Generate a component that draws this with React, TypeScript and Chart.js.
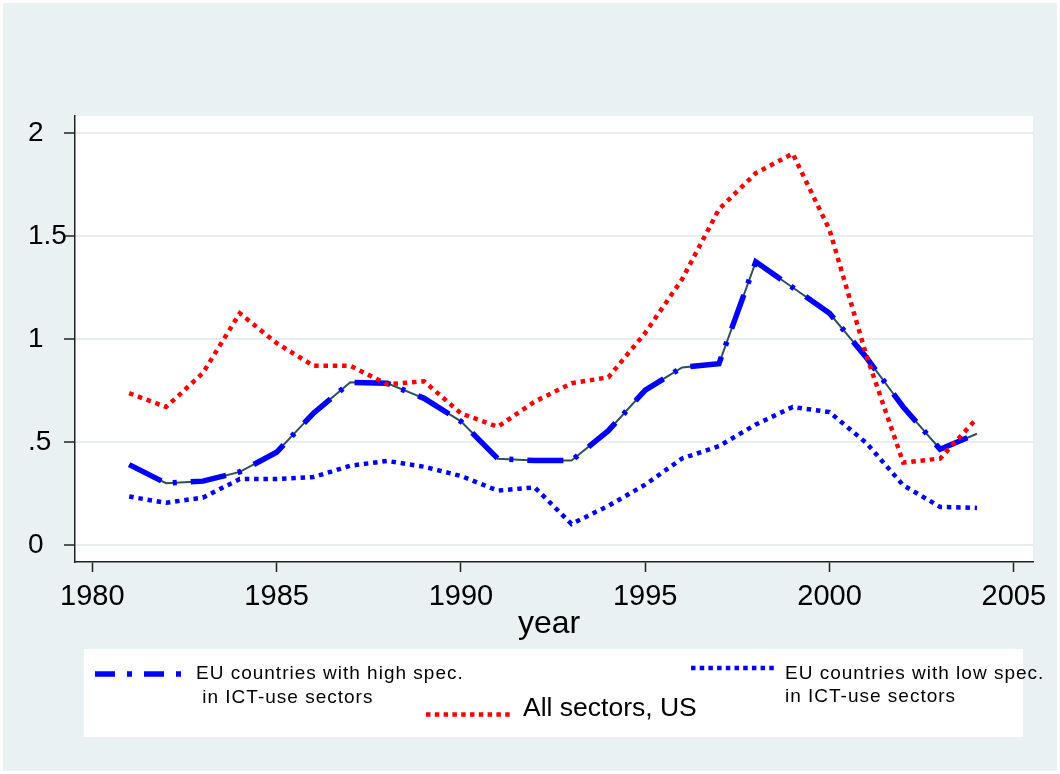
import React, { useEffect, useRef } from "react";
import { Chart, registerables } from "chart.js";

Chart.register(...registerables);

const YEARS = [1981, 1982, 1983, 1984, 1985, 1986, 1987, 1988, 1989, 1990, 1991, 1992, 1993, 1994, 1995, 1996, 1997, 1998, 1999, 2000, 2001, 2002, 2003, 2004];
const HIGH_SPEC = [0.39, 0.30, 0.31, 0.355, 0.45, 0.64, 0.79, 0.785, 0.712, 0.6, 0.419, 0.41, 0.41, 0.555, 0.752, 0.862, 0.88, 1.375, 1.25, 1.125, 0.91, 0.67, 0.465, 0.54];
const LOW_SPEC = [0.235, 0.205, 0.23, 0.32, 0.32, 0.33, 0.385, 0.408, 0.38, 0.335, 0.264, 0.28, 0.102, 0.19, 0.293, 0.42, 0.48, 0.585, 0.67, 0.645, 0.495, 0.29, 0.185, 0.18];
const US_ALL = [0.737, 0.67, 0.835, 1.125, 0.98, 0.87, 0.87, 0.78, 0.795, 0.639, 0.574, 0.696, 0.785, 0.814, 1.03, 1.29, 1.63, 1.805, 1.9, 1.53, 0.92, 0.40, 0.42, 0.615];
const X_TICKS = [1980, 1985, 1990, 1995, 2000, 2005];
const Y_TICKS = [0, 0.5, 1, 1.5, 2];
const Y_TICK_LABELS = ["0", ".5", "1", "1.5", "2"];
const X_TITLE = "year";
const LABEL_HIGH = ["EU countries with high spec.", " in ICT-use sectors"];
const LABEL_LOW = ["EU countries with low spec.", "in ICT-use sectors"];
const LABEL_US = "All sectors, US";

const FONT = "'Liberation Sans', Arial, Helvetica, sans-serif";
const BG = "#e9f1f3";
const BLUE = "#0000ff";
const RED = "#ff0000";
const SLATE = "#2d4f5f";

const backgroundPlugin = {
  id: "stataBackground",
  beforeDraw(chart: any) {
    const { ctx, width, height, chartArea } = chart;
    ctx.save();
    ctx.fillStyle = "#ffffff";
    ctx.fillRect(0, 0, width, height);
    ctx.fillStyle = BG;
    ctx.fillRect(3, 3, width - 6, height - 6);
    ctx.fillStyle = "#ffffff";
    ctx.fillRect(chartArea.left, chartArea.top, chartArea.right - chartArea.left, chartArea.bottom - chartArea.top);
    ctx.restore();
  },
};

function sampleLine(ctx: any, x1: number, x2: number, y: number, color: string, width: number, dash: number[]) {
  ctx.save();
  ctx.strokeStyle = color;
  ctx.lineWidth = width;
  ctx.lineCap = "butt";
  ctx.setLineDash(dash);
  ctx.beginPath();
  ctx.moveTo(x1, y);
  ctx.lineTo(x2, y);
  ctx.stroke();
  ctx.restore();
}

const legendPlugin = {
  id: "stataLegend",
  afterDraw(chart: any) {
    const { ctx, chartArea } = chart;
    ctx.save();
    // x axis title
    ctx.fillStyle = "#000";
    ctx.font = `32px ${FONT}`;
    ctx.textAlign = "center";
    ctx.textBaseline = "alphabetic";
    ctx.fillText(X_TITLE, (chartArea.left + chartArea.right) / 2 - 5, 633);

    // legend box
    ctx.fillStyle = "#ffffff";
    ctx.fillRect(84, 649, 1023 - 84, 737 - 649);

    // item: high spec
    sampleLine(ctx, 95, 182, 674, BLUE, 5.5, [20, 12, 5, 12]);
    ctx.fillStyle = "#000";
    ctx.textAlign = "left";
    ctx.font = `19px ${FONT}`;
    (ctx as any).letterSpacing = "1px";
    ctx.fillText(LABEL_HIGH[0], 196, 679);
    ctx.fillText(LABEL_HIGH[1], 196, 703);

    // item: low spec
    sampleLine(ctx, 691, 776, 668, BLUE, 4.5, [4.5, 4.2]);
    ctx.fillText(LABEL_LOW[0], 785, 679);
    ctx.fillText(LABEL_LOW[1], 785, 702);

    // item: US
    (ctx as any).letterSpacing = "0px";
    sampleLine(ctx, 426, 513, 714.5, RED, 4.5, [4.5, 4.3]);
    ctx.font = `26.5px ${FONT}`;
    ctx.fillText(LABEL_US, 523, 716);
    ctx.restore();
  },
};

export default function App() {
  const canvasRef = useRef<HTMLCanvasElement | null>(null);

  useEffect(() => {
    document.body.style.margin = "0";
    const canvas = canvasRef.current;
    if (!canvas) return;
    const pts = (vals: number[]) => YEARS.map((y, i) => ({ x: y, y: vals[i] }));
    const chart = new Chart(canvas, {
      type: "line",
      data: {
        datasets: [
          {
            label: LABEL_US,
            data: pts(US_ALL),
            borderColor: RED,
            borderWidth: 4.5,
            borderDash: [4.5, 4.8],
            borderCapStyle: "butt",
            pointRadius: 0,
            tension: 0,
            fill: false,
            order: 0,
          },
          {
            label: LABEL_HIGH.join(" "),
            data: pts(HIGH_SPEC),
            borderColor: BLUE,
            borderWidth: 5.5,
            borderDash: [36, 12, 4, 14],
            borderCapStyle: "butt",
            pointRadius: 0,
            tension: 0,
            fill: false,
            order: 1,
          },
          {
            label: "high-spec base",
            data: pts(HIGH_SPEC),
            borderColor: SLATE,
            borderWidth: 2,
            pointRadius: 0,
            tension: 0,
            fill: false,
            order: 2,
          },
          {
            label: LABEL_LOW.join(" "),
            data: pts(LOW_SPEC),
            borderColor: BLUE,
            borderWidth: 4.5,
            borderDash: [4.5, 4.8],
            borderCapStyle: "butt",
            pointRadius: 0,
            tension: 0,
            fill: false,
            order: 3,
          },
        ],
      },
      options: {
        responsive: false,
        animation: false,
        events: [],
        layout: { padding: { left: 28, top: 116, right: 27, bottom: 152 } },
        plugins: {
          legend: { display: false },
          tooltip: { enabled: false },
          title: { display: false },
        },
        scales: {
          x: {
            type: "linear",
            min: 1979.53,
            max: 2005.52,
            afterFit(scale: any) {
              scale.height = 60;
            },
            afterBuildTicks(scale: any) {
              scale.ticks = X_TICKS.map((v) => ({ value: v }));
            },
            border: { display: true, color: "#222", width: 1.5 },
            grid: {
              display: true,
              drawOnChartArea: false,
              drawTicks: true,
              tickLength: 10,
              tickWidth: 1.5,
              tickColor: "#222",
            },
            ticks: {
              color: "#000",
              font: { family: FONT, size: 29 },
              padding: 8,
              maxRotation: 0,
              autoSkip: false,
              callback: (v: any) => String(v),
            },
          },
          y: {
            type: "linear",
            min: -0.0825,
            max: 2.0825,
            afterFit(scale: any) {
              scale.width = 47;
            },
            afterBuildTicks(scale: any) {
              scale.ticks = Y_TICKS.map((v) => ({ value: v }));
            },
            border: { display: true, color: "#222", width: 1.5 },
            grid: {
              display: true,
              drawOnChartArea: true,
              color: "#e6eef0",
              lineWidth: 2,
              drawTicks: true,
              tickLength: 11,
              tickWidth: 1.5,
              tickColor: "#222",
            },
            ticks: {
              color: "#000",
              font: { family: FONT, size: 28 },
              padding: 8,
              crossAlign: "far",
              autoSkip: false,
              callback: (v: any) => {
                const i = Y_TICKS.indexOf(Number(v));
                return i >= 0 ? Y_TICK_LABELS[i] : "";
              },
            },
          },
        },
      },
      plugins: [backgroundPlugin, legendPlugin],
    } as any);
    return () => chart.destroy();
  }, []);

  return (
    <div style={{ position: "absolute", left: 0, top: 0, width: 1060, height: 774 }}>
      <canvas ref={canvasRef} width={1060} height={774} style={{ display: "block", width: 1060, height: 774 }} />
    </div>
  );
}
